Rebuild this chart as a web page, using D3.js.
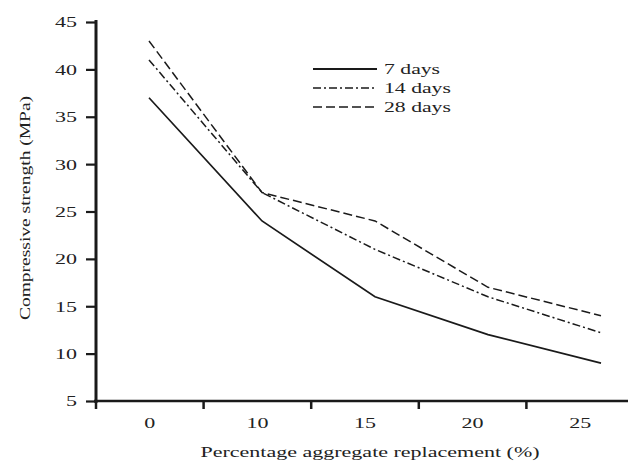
<!DOCTYPE html>
<html><head><meta charset="utf-8">
<script src="https://cdn.jsdelivr.net/npm/d3@7"></script>
<style>body{margin:0;background:#fff}svg{display:block}text{font-family:"Liberation Serif","Times New Roman",serif;fill:#222}</style>
</head><body><svg id="c" width="628" height="462"></svg>
<script>
const categories = ["0","10","15","20","25"];
const days7  = [37, 24, 16, 12, 9];
const days14 = [41, 27, 21, 16, 12.2];
const days28 = [43, 27, 24, 17, 14];
const seriesNames = ["7 days","14 days","28 days"];
const yTicks = [5,10,15,20,25,30,35,40,45];

const svg = d3.select("#c");
const ink = "#1a1a1a";
const y = d3.scaleLinear().domain([5,45]).range([401,22]);
const xAxisScale = d3.scaleBand().domain(categories).range([96,634]);
const xData = d3.scalePoint().domain(categories).range([149,601]);

// horizontal stretch of the serif text, as in the reference
function stretch(sel, k){
  sel.each(function(){
    const w = this.getComputedTextLength();
    d3.select(this).attr("textLength", w*k).attr("lengthAdjust","spacingAndGlyphs");
  });
}

// axes
const gy = svg.append("g").attr("transform","translate(96,0)")
  .call(d3.axisLeft(y).tickValues(yTicks).tickSize(10).tickPadding(9));
gy.select(".domain").attr("stroke",ink).attr("stroke-width",3).attr("d","M0,403V20");
gy.selectAll(".tick line").attr("stroke",ink).attr("stroke-width",2.2);
gy.selectAll(".tick text").attr("font-size",15.5).attr("fill",ink).attr("font-family","Liberation Serif");
stretch(gy.selectAll(".tick text"),1.42);

const gx = svg.append("g").attr("transform","translate(0,401)")
  .call(d3.axisBottom(xAxisScale).tickSize(0).tickPadding(16));
gx.select(".domain").attr("stroke",ink).attr("stroke-width",2.5).attr("d","M94,0H628");
gx.selectAll(".tick text").attr("font-size",15.5).attr("fill",ink).attr("font-family","Liberation Serif");
stretch(gx.selectAll(".tick text"),1.42);
// tick marks at band boundaries
gx.selectAll("line.bt").data(categories).enter().append("line").attr("class","bt")
  .attr("x1",d=>xAxisScale(d)).attr("x2",d=>xAxisScale(d)).attr("y1",0).attr("y2",8)
  .attr("stroke",ink).attr("stroke-width",2.5);

// titles
const xt = svg.append("text").attr("x",370).attr("y",457).attr("text-anchor","middle").attr("font-size",15.5)
  .text("Percentage aggregate replacement (%)");
stretch(xt,1.42);
const yt = svg.append("text").attr("transform","translate(30,208) rotate(-90)").attr("text-anchor","middle").attr("font-size",15)
  .text("Compressive strength (MPa)");
stretch(yt,1.3);

const styles = [
  {data:days7, dash:null, w:1.7},
  {data:days14, dash:"8,3,2,3", w:1.5},
  {data:days28, dash:"9,4", w:1.5}
];
const line = d3.line().x((d,i)=>xData(categories[i])).y(d=>y(d));
styles.forEach(s=>{
  svg.append("path").attr("d",line(s.data)).attr("fill","none").attr("stroke",ink)
    .attr("stroke-width",s.w).attr("stroke-dasharray",s.dash);
});

// legend
const lg = svg.append("g");
seriesNames.forEach((n,i)=>{
  const yy = 69 + i*19;
  lg.append("line").attr("x1",313).attr("x2",377).attr("y1",yy).attr("y2",yy)
    .attr("stroke",ink).attr("stroke-width",i===0?2:1.6).attr("stroke-dasharray",styles[i].dash);
  const t = lg.append("text").attr("x",384).attr("y",yy+5).attr("font-size",15.5).text(n);
  stretch(t,1.4);
});
</script></body></html>
